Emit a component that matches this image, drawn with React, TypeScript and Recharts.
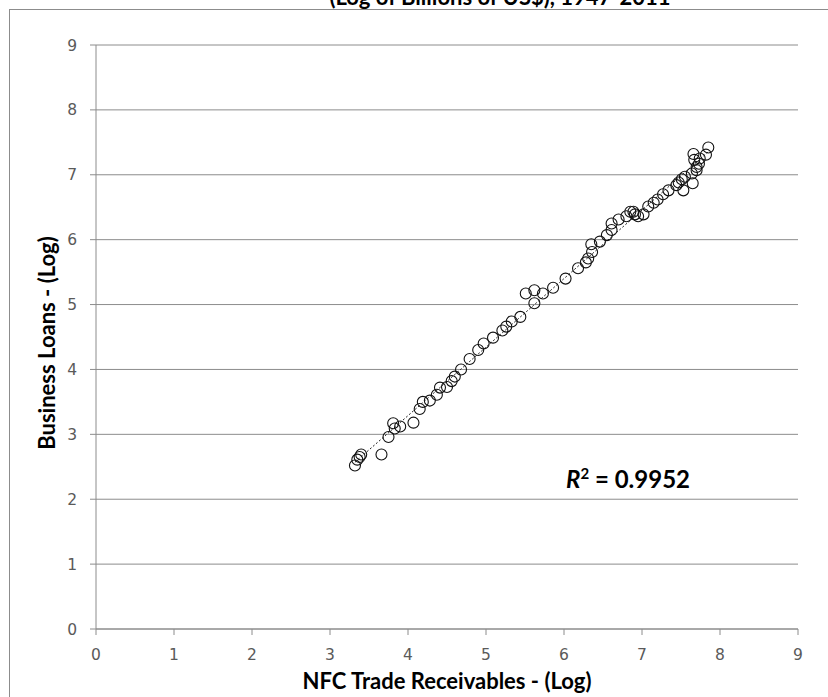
import React from 'react';
import { ScatterChart, Scatter, XAxis, YAxis, CartesianGrid } from 'recharts';

// NFC trade receivables (log) — x values
const receivablesLog = [
  3.32, 3.35, 3.38, 3.40, 3.66, 3.75, 3.81, 3.83, 3.90, 4.07,
  4.15, 4.19, 4.28, 4.37, 4.41, 4.50, 4.56, 4.60, 4.68, 4.79,
  4.90, 4.97, 5.09, 5.21, 5.26, 5.33, 5.44, 5.51, 5.62, 5.62,
  5.73, 5.86, 6.02, 6.18, 6.28, 6.31, 6.36, 6.35, 6.46, 6.55,
  6.61, 6.61, 6.70, 6.80, 6.85, 6.89, 6.91, 6.95, 7.02, 7.08,
  7.15, 7.20, 7.27, 7.34, 7.44, 7.47, 7.53, 7.51, 7.55, 7.65,
  7.64, 7.70, 7.70, 7.73, 7.67, 7.66, 7.74, 7.82, 7.85,
];

// Business loans (log) — y values
const loansLog = [
  2.52, 2.61, 2.65, 2.69, 2.69, 2.96, 3.17, 3.09, 3.12, 3.18,
  3.39, 3.50, 3.52, 3.61, 3.72, 3.73, 3.82, 3.89, 4.00, 4.16,
  4.30, 4.40, 4.49, 4.60, 4.66, 4.74, 4.81, 5.17, 5.22, 5.02,
  5.17, 5.26, 5.40, 5.56, 5.65, 5.71, 5.81, 5.93, 5.97, 6.07,
  6.15, 6.25, 6.31, 6.36, 6.43, 6.43, 6.39, 6.36, 6.39, 6.51,
  6.57, 6.62, 6.70, 6.76, 6.84, 6.88, 6.76, 6.93, 6.97, 6.87,
  7.02, 7.07, 7.12, 7.17, 7.23, 7.32, 7.25, 7.31, 7.42,
];

const xTicks = [0, 1, 2, 3, 4, 5, 6, 7, 8, 9];
const yTicks = [0, 1, 2, 3, 4, 5, 6, 7, 8, 9];

const titleText = '(Log of Billions of US$), 1947-2011';
const xLabel = 'NFC Trade Receivables - (Log)';
const yLabel = 'Business Loans - (Log)';
const rSquared = '0.9952';

const points = receivablesLog.map((x, i) => ({ x, y: loansLog[i] }));

// least-squares trendline through the points
const n = points.length;
const mx = points.reduce((s, p) => s + p.x, 0) / n;
const my = points.reduce((s, p) => s + p.y, 0) / n;
const slope =
  points.reduce((s, p) => s + (p.x - mx) * (p.y - my), 0) /
  points.reduce((s, p) => s + (p.x - mx) * (p.x - mx), 0);
const intercept = my - slope * mx;
const xMin = Math.min(...receivablesLog);
const xMax = Math.max(...receivablesLog);
const trend = [
  { x: xMin, y: intercept + slope * xMin },
  { x: xMax, y: intercept + slope * xMax },
];

const OpenCircle = (props: any) => (
  <circle cx={props.cx} cy={props.cy} r={5.5} fill="none" stroke="#111" strokeWidth={1.1} />
);

const NoShape = () => <g />;

const tickStyle = { fill: '#5a5a5a', fontSize: 15.5, fontFamily: 'DejaVu Sans, sans-serif' };
const labelFont = 'Lato, "Open Sans", sans-serif';

export default function App() {
  return (
    <div
      style={{
        position: 'fixed',
        left: 0,
        top: 0,
        width: 828,
        height: 697,
        overflow: 'hidden',
        background: '#fff',
      }}
    >
      <div
        style={{
          position: 'absolute',
          left: 9,
          top: 9,
          width: 900,
          height: 900,
          border: '1px solid #8c8c8c',
        }}
      />
      <div
        style={{
          position: 'absolute',
          left: 200,
          width: 600,
          top: -17,
          textAlign: 'center',
          fontFamily: labelFont,
          fontSize: 22,
          fontWeight: 700,
          color: '#000',
          whiteSpace: 'nowrap',
        }}
      >
        {titleText}
      </div>
      <ScatterChart width={828} height={697} margin={{ top: 45, right: 30, bottom: 28, left: 36 }}>
        <CartesianGrid vertical={false} stroke="#8c8c8c" />
        <XAxis
          type="number"
          dataKey="x"
          domain={[0, 9]}
          ticks={xTicks}
          height={40}
          tickSize={6}
          tickMargin={14}
          stroke="#8c8c8c"
          tick={tickStyle}
          allowDataOverflow
        />
        <YAxis
          type="number"
          dataKey="y"
          domain={[0, 9]}
          ticks={yTicks}
          width={60}
          tickSize={6}
          tickMargin={13}
          stroke="#8c8c8c"
          tick={tickStyle}
          allowDataOverflow
        />
        <Scatter
          data={trend}
          line={{ stroke: '#222', strokeWidth: 1, strokeDasharray: '2 2' }}
          shape={NoShape}
          isAnimationActive={false}
        />
        <Scatter data={points} shape={OpenCircle} isAnimationActive={false} />
      </ScatterChart>
      <div
        style={{
          position: 'absolute',
          left: 247,
          width: 400,
          top: 668,
          textAlign: 'center',
          fontFamily: labelFont,
          fontSize: 22,
          fontWeight: 700,
          color: '#000',
          lineHeight: '26px',
          whiteSpace: 'nowrap',
        }}
      >
        {xLabel}
      </div>
      <div
        style={{
          position: 'absolute',
          left: 47 - 150,
          top: 343 - 13,
          width: 300,
          height: 26,
          textAlign: 'center',
          fontFamily: labelFont,
          fontSize: 22,
          fontWeight: 700,
          color: '#000',
          lineHeight: '26px',
          whiteSpace: 'nowrap',
          transform: 'rotate(-90deg)',
        }}
      >
        {yLabel}
      </div>
      <div
        style={{
          position: 'absolute',
          left: 528,
          width: 200,
          top: 464,
          textAlign: 'center',
          fontFamily: labelFont,
          fontSize: 24,
          fontWeight: 700,
          color: '#000',
          lineHeight: '30px',
          whiteSpace: 'nowrap',
        }}
      >
        <span style={{ fontStyle: 'italic' }}>R</span>
        <sup style={{ fontSize: 15, verticalAlign: 'top', lineHeight: '18px' }}>2</sup> = {rSquared}
      </div>
    </div>
  );
}
